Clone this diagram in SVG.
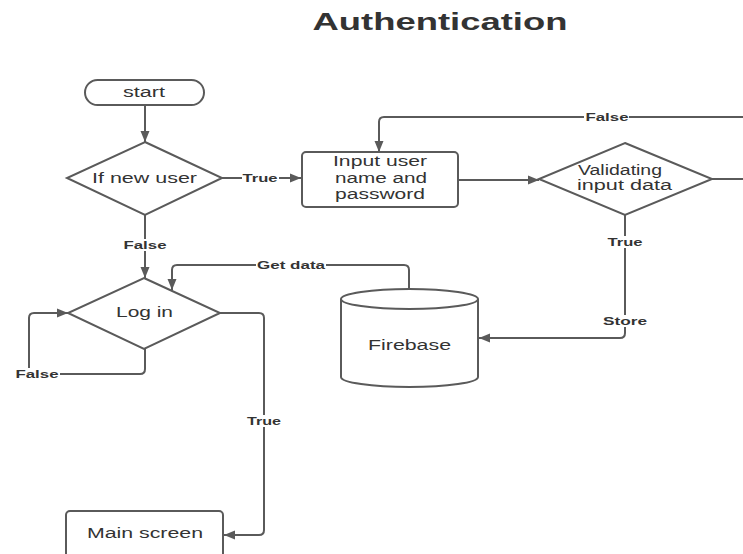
<svg xmlns="http://www.w3.org/2000/svg" width="743" height="554" viewBox="0 0 743 554">
<style>
.node{fill:#fff;stroke:#5a5a5a;stroke-width:2}
.conn{fill:none;stroke:#5a5a5a;stroke-width:2;stroke-linejoin:round}
.t{font-family:"Liberation Sans",Arial,sans-serif;font-size:14px;fill:#333;text-anchor:middle}
.lbl{font-family:"Liberation Sans",Arial,sans-serif;font-size:11px;font-weight:bold;fill:#333;text-anchor:middle}
.bg{fill:#fff}
.title{font-family:"Liberation Sans",Arial,sans-serif;font-size:24px;font-weight:bold;fill:#333;text-anchor:middle}
</style>
<defs>
<marker id="arr" markerUnits="userSpaceOnUse" markerWidth="12" markerHeight="10" refX="11" refY="5" orient="auto">
<path d="M0,0.5 L11,5 L0,9.5 z" fill="#5a5a5a"/>
</marker>
</defs>
<rect width="743" height="554" fill="#fff"/>
<text class="title" x="440" y="30" textLength="255" lengthAdjust="spacingAndGlyphs">Authentication</text>

<g id="connectors">
<path class="conn" d="M145 105 V142" marker-end="url(#arr)"/>
<path class="conn" d="M222 178 H301" marker-end="url(#arr)"/>
<path class="conn" d="M458 180 H539" marker-end="url(#arr)"/>
<path class="conn" d="M712 179 H743"/>
<path class="conn" d="M743 117 H384 Q379 117 379 122 V152" marker-end="url(#arr)"/>
<path class="conn" d="M625 215 V333 Q625 338 620 338 H479" marker-end="url(#arr)"/>
<path class="conn" d="M145 215 V278" marker-end="url(#arr)"/>
<path class="conn" d="M409 289 V270 Q409 265 404 265 H177 Q172 265 172 270 V290" marker-end="url(#arr)"/>
<path class="conn" d="M145 349 V369 Q145 374 140 374 H34 Q29 374 29 369 V318 Q29 313 34 313 H68" marker-end="url(#arr)"/>
<path class="conn" d="M220 313 H259 Q264 313 264 318 V530 Q264 535 259 535 H224" marker-end="url(#arr)"/>
<rect class="bg" x="242" y="172" width="37" height="12"/>
<text class="lbl" x="260" y="182" textLength="35" lengthAdjust="spacingAndGlyphs">True</text>
<rect class="bg" x="122" y="239" width="45" height="12"/>
<text class="lbl" x="145" y="249" textLength="43" lengthAdjust="spacingAndGlyphs">False</text>
<rect class="bg" x="256" y="259" width="70" height="12"/>
<text class="lbl" x="291" y="269" textLength="68" lengthAdjust="spacingAndGlyphs">Get data</text>
<rect class="bg" x="15" y="368" width="45" height="12"/>
<text class="lbl" x="37" y="378" textLength="43" lengthAdjust="spacingAndGlyphs">False</text>
<rect class="bg" x="246" y="415" width="36" height="12"/>
<text class="lbl" x="264" y="425" textLength="34" lengthAdjust="spacingAndGlyphs">True</text>
<rect class="bg" x="584" y="111" width="45" height="12"/>
<text class="lbl" x="607" y="121" textLength="43" lengthAdjust="spacingAndGlyphs">False</text>
<rect class="bg" x="606" y="236" width="38" height="12"/>
<text class="lbl" x="625" y="246" textLength="35" lengthAdjust="spacingAndGlyphs">True</text>
<rect class="bg" x="602" y="315" width="46" height="12"/>
<text class="lbl" x="625" y="325" textLength="44" lengthAdjust="spacingAndGlyphs">Store</text>
</g>

<g id="start">
<rect class="node" x="85" y="80" width="119" height="25" rx="12.5"/>
<text class="t" x="144" y="97" textLength="42" lengthAdjust="spacingAndGlyphs">start</text>
</g>
<g id="if-new-user">
<polygon class="node" points="145,142 222,178 145,215 67,178"/>
<text class="t" x="144.5" y="183" textLength="105" lengthAdjust="spacingAndGlyphs">If new user</text>
</g>
<g id="input">
<rect class="node" x="302" y="152" width="156" height="55" rx="4"/>
<text class="t" x="380" y="166" textLength="94" lengthAdjust="spacingAndGlyphs">Input user</text>
<text class="t" x="381" y="183" textLength="92" lengthAdjust="spacingAndGlyphs">name and</text>
<text class="t" x="380" y="199" textLength="90" lengthAdjust="spacingAndGlyphs">password</text>
</g>
<g id="validating">
<polygon class="node" points="625,143 712,179 625,215 539,179"/>
<text class="t" x="620" y="175" textLength="84" lengthAdjust="spacingAndGlyphs">Validating</text>
<text class="t" x="624.5" y="190" textLength="95" lengthAdjust="spacingAndGlyphs">input data</text>
</g>
<g id="login">
<polygon class="node" points="144,278 220,313 144,349 68,313"/>
<text class="t" x="144.5" y="317" textLength="57" lengthAdjust="spacingAndGlyphs">Log in</text>
</g>
<g id="firebase">
<path class="node" d="M341 299 V377 A68.5 10 0 0 0 478 377 V299 A68.5 10 0 0 0 341 299 Z"/>
<path class="node" style="fill:none" d="M341 299 A68.5 10 0 0 0 478 299"/>
<text class="t" x="409.5" y="350" textLength="83" lengthAdjust="spacingAndGlyphs">Firebase</text>
</g>
<g id="main-screen">
<rect class="node" x="66" y="511" width="157" height="60" rx="4"/>
<text class="t" x="145" y="538" textLength="116" lengthAdjust="spacingAndGlyphs">Main screen</text>
</g>
</svg>
